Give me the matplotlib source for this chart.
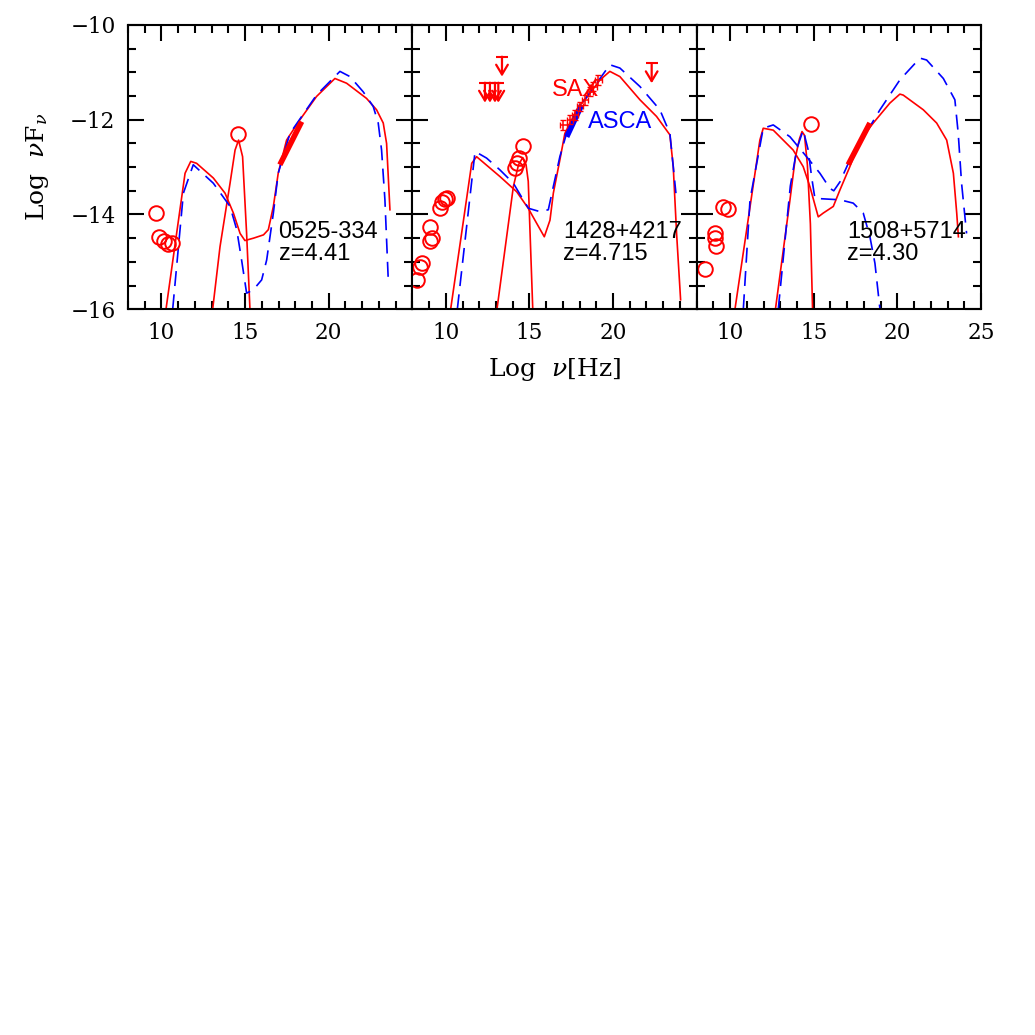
import numpy as np
import matplotlib
matplotlib.use("Agg")
import matplotlib.pyplot as plt
from matplotlib.ticker import MultipleLocator, FixedLocator

plt.rcParams['mathtext.fontset'] = 'dejavuserif'

# --- source labels
names = ['0525-334', '1428+4217', '1508+5714']
redshifts = ['z=4.41', 'z=4.715', 'z=4.30']

# --- panel 1 : 0525-334
p1_circ_x = [9.67, 9.87, 10.15, 10.4, 10.6, 14.59]
p1_circ_y = [-13.97, -14.48, -14.55, -14.62, -14.6, -12.31]
p1_xray_x = [17.08, 18.38]
p1_xray_y = [-12.95, -12.04]
p1_tot_x = [10.27, 11.41, 11.75, 12.1, 13.1, 13.8, 14.3, 14.7, 14.99, 15.5, 16.1, 16.39,
            16.69, 16.98, 17.48, 18.28, 19.27, 20.37, 21.07, 22.26, 22.86, 23.26, 23.46, 23.66]
p1_tot_y = [-16, -13.13, -12.88, -12.92, -13.23, -13.55, -13.97, -14.4, -14.55, -14.5, -14.43, -14.32,
            -13.83, -13.13, -12.43, -12.0, -11.51, -11.13, -11.23, -11.55, -11.79, -12.07, -12.5, -13.9]
p1_disc_x = [13.06, 13.5, 14.1, 14.4, 14.61, 14.85, 15.09, 15.29]
p1_disc_y = [-16, -14.68, -13.34, -12.64, -12.43, -12.78, -14.4, -16]
p1_alt_x = [10.67, 11.31, 11.9, 13.1, 14.1, 14.5, 14.79, 15.09, 15.49, 15.99, 16.29, 16.69,
            16.98, 17.68, 19.27, 20.67, 21.27, 22.06, 22.66, 22.96, 23.16, 23.36, 23.56]
p1_alt_y = [-16, -13.55, -12.95, -13.34, -13.83, -14.32, -14.96, -15.66, -15.59, -15.38, -14.96, -13.97,
            -13.13, -12.29, -11.48, -10.98, -11.09, -11.41, -11.72, -12.07, -12.64, -13.69, -15.38]

# --- panel 2 : 1428+4217
p2_circ_x = [8.26, 8.46, 8.56, 9.06, 9.16, 9.06, 9.66, 9.76, 9.96, 10.06, 14.14, 14.24, 14.4, 14.63]
p2_circ_y = [-15.38, -15.1, -15.03, -14.26, -14.5, -14.57, -13.87, -13.73, -13.68, -13.66,
             -13.02, -12.92, -12.81, -12.55]
p2_ul_x = [12.34, 12.64, 12.94, 13.14, 13.36, 22.31]
p2_ul_y = [-11.22, -11.22, -11.22, -11.22, -10.67, -10.81]
sax_x = [17.03, 17.43, 17.73, 18.02, 18.32, 18.62, 18.82, 19.12]
sax_y = [-12.11, -12.0, -11.9, -11.72, -11.58, -11.41, -11.3, -11.16]
asca_x = [17.23, 18.12]
asca_y = [-12.36, -11.69]
p2_tot_x = [10.29, 11.55, 11.84, 13.24, 14.24, 14.93, 15.44, 15.89, 16.23, 16.43, 16.82, 17.12,
            17.82, 18.62, 19.22, 19.81, 20.41, 21.61, 22.6, 23.4, 23.6, 23.8, 24.04]
p2_tot_y = [-16, -12.92, -12.78, -13.2, -13.52, -13.87, -14.19, -14.47, -14.12, -13.55, -12.85, -12.29,
            -11.79, -11.44, -11.16, -10.98, -11.09, -11.58, -11.93, -12.32, -12.99, -14.4, -15.8]
p2_disc_x = [13.06, 14.04, 14.35, 14.6, 14.8, 14.93, 15.05, 15.2]
p2_disc_y = [-16, -13.41, -12.95, -12.8, -12.95, -13.3, -14.5, -16]
p2_alt_x = [10.69, 11.75, 12.44, 13.24, 14.04, 14.63, 14.95, 15.63, 16.13, 16.43, 16.82, 17.22,
            18.02, 19.02, 19.81, 20.41, 21.61, 22.8, 23.4, 23.6, 23.76]
p2_alt_y = [-16, -12.67, -12.81, -13.06, -13.34, -13.69, -13.87, -13.94, -13.9, -13.41, -12.78, -12.29,
            -11.72, -11.23, -10.84, -10.91, -11.3, -11.79, -12.29, -12.99, -13.55]

# --- panel 3 : 1508+5714
p3_circ_x = [8.5, 9.1, 9.1, 9.16, 9.59, 9.89, 14.81]
p3_circ_y = [-15.15, -14.4, -14.5, -14.66, -13.85, -13.89, -12.09]
p3_xray_x = [17.06, 18.36]
p3_xray_y = [-12.95, -12.07]
p3_tot_x = [10.29, 11.78, 11.98, 12.58, 13.77, 14.37, 14.77, 15.27, 15.57, 16.17, 16.57, 17.16,
            17.76, 18.56, 19.55, 20.15, 20.35, 21.55, 22.35, 22.95, 23.35, 23.55, 23.65]
p3_tot_y = [-16, -12.43, -12.18, -12.22, -12.64, -12.99, -13.41, -14.05, -13.97, -13.83, -13.48, -12.99,
            -12.43, -12.07, -11.65, -11.46, -11.48, -11.79, -12.07, -12.43, -13.13, -13.97, -14.47]
p3_disc_x = [12.71, 13.58, 13.9, 14.15, 14.3, 14.45, 14.62, 14.8, 14.93]
p3_disc_y = [-16, -13.69, -12.8, -12.4, -12.25, -12.33, -12.95, -14.2, -16]
p3_alt_x = [10.79, 11.19, 11.98, 12.58, 13.58, 14.57, 15.37, 15.97, 16.2, 16.57, 17.16, 18.96,
            20.15, 21.35, 21.75, 22.75, 23.44, 23.64, 23.84, 24.14]
p3_alt_y = [-16, -13.69, -12.18, -12.11, -12.36, -12.78, -13.13, -13.45, -13.5, -13.31, -12.85, -11.79,
            -11.16, -10.7, -10.74, -11.13, -11.58, -12.29, -13.34, -14.4]
p3_alt2_x = [12.88, 13.6, 14.0, 14.37, 14.67, 14.87, 15.07, 16.57, 17.36, 17.96, 18.36, 18.66, 18.96]
p3_alt2_y = [-16, -13.4, -12.6, -12.22, -12.64, -13.2, -13.66, -13.69, -13.76, -13.97, -14.47, -15.03, -16]

RED = '#ff0000'
BLUE = '#0000ff'
DASH = (0, (9, 5))
LW = 1.2

fig = plt.figure(figsize=(10.35, 10.35), dpi=100)
left, bottom, w, h = 0.1237, 0.7012, 0.2747, 0.2747
axes = [fig.add_axes([left + i * w, bottom, w, h]) for i in range(3)]

circ = dict(marker='o', ls='none', ms=10.5, mfc='none', mec=RED, mew=1.4)

ax = axes[0]
ax.plot(p1_tot_x, p1_tot_y, color=RED, lw=LW)
ax.plot(p1_disc_x, p1_disc_y, color=RED, lw=LW)
ax.plot(p1_alt_x, p1_alt_y, color=BLUE, lw=LW, ls=DASH)
ax.plot(p1_circ_x, p1_circ_y, **circ)
ax.plot(p1_xray_x, p1_xray_y, color=RED, lw=4, solid_capstyle='butt')

ax = axes[1]
ax.plot(p2_tot_x, p2_tot_y, color=RED, lw=LW)
ax.plot(p2_disc_x, p2_disc_y, color=RED, lw=LW)
ax.plot(p2_alt_x, p2_alt_y, color=BLUE, lw=LW, ls=DASH)
ax.plot(p2_circ_x, p2_circ_y, **circ)
ax.plot(asca_x, asca_y, color=BLUE, lw=4, solid_capstyle='butt')
ax.errorbar(sax_x, sax_y, xerr=0.2, yerr=0.1, fmt='none', ecolor=RED, elinewidth=1.1, capsize=2.5)
# upper limits: bar plus downward arrow
for ux, uy in zip(p2_ul_x, p2_ul_y):
    ax.annotate('', xy=(ux, uy - 0.42), xytext=(ux, uy),
                arrowprops=dict(arrowstyle='->,head_length=0.5,head_width=0.3', color=RED,
                                lw=1.6, mutation_scale=14, shrinkA=0, shrinkB=0))
ax.plot(p2_ul_x, p2_ul_y, ls='none', marker='_', ms=8, mew=1.5, color=RED)
ax.text(16.33, -11.51, 'SAX', color=RED, fontsize=17, family='Liberation Sans')
ax.text(18.52, -12.18, 'ASCA', color=BLUE, fontsize=17, family='Liberation Sans')

ax = axes[2]
ax.plot(p3_tot_x, p3_tot_y, color=RED, lw=LW)
ax.plot(p3_disc_x, p3_disc_y, color=RED, lw=LW)
ax.plot(p3_alt_x, p3_alt_y, color=BLUE, lw=LW, ls=DASH)
ax.plot(p3_alt2_x, p3_alt2_y, color=BLUE, lw=LW, ls=DASH)
ax.plot(p3_circ_x, p3_circ_y, **circ)
ax.plot(p3_xray_x, p3_xray_y, color=RED, lw=4, solid_capstyle='butt')

for i, ax in enumerate(axes):
    ax.set_xlim(8, 25)
    ax.set_ylim(-16, -10)
    ax.text(17.0, -14.5, names[i], fontsize=17, family='Liberation Sans')
    ax.text(17.0, -14.97, redshifts[i], fontsize=17, family='Liberation Sans')
    ax.xaxis.set_major_locator(FixedLocator([10, 15, 20, 25]))
    ax.xaxis.set_minor_locator(MultipleLocator(1))
    ax.yaxis.set_major_locator(MultipleLocator(2))
    ax.yaxis.set_minor_locator(MultipleLocator(0.5))
    ax.tick_params(which='both', direction='in', top=True, right=True, width=1.5)
    ax.tick_params(which='major', length=11.5, pad=9, labelsize=15.5)
    ax.tick_params(which='minor', length=5.5)
    for lab in ax.get_xticklabels() + ax.get_yticklabels():
        lab.set_family('DejaVu Serif')
    for s in ax.spines.values():
        s.set_linewidth(1.5)
    if i < 2:
        ax.set_xticks([10, 15, 20, 25], ['10', '15', '20', ''])
    if i > 0:
        ax.set_yticklabels([])

axes[0].set_ylabel('Log  $\\nu$F$_\\nu$', fontsize=18, family='DejaVu Serif', labelpad=14)
axes[1].set_xlabel('Log  $\\nu$[Hz]', fontsize=18, family='DejaVu Serif', labelpad=9)

fig.savefig('out.png', dpi=100)
